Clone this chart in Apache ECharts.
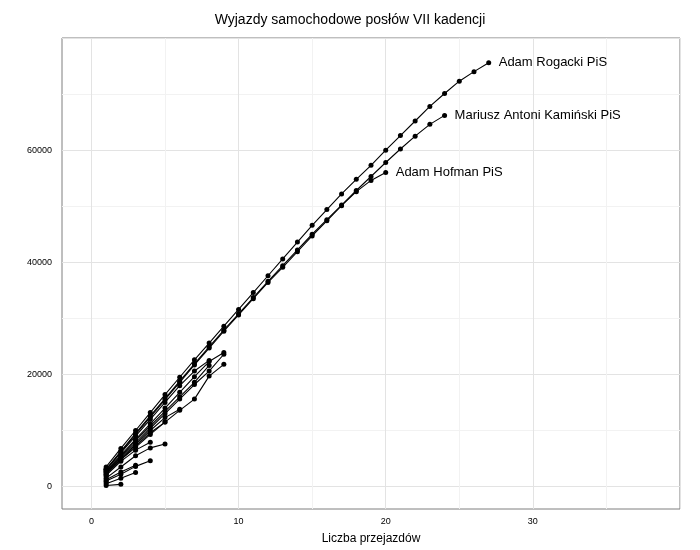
<!DOCTYPE html>
<html><head><meta charset="utf-8">
<script src="https://cdn.jsdelivr.net/npm/echarts@6/dist/echarts.min.js"></script>
<style>html,body{margin:0;background:#fff}#c{width:700px;height:550px}</style>
</head><body><div id="c"></div>
<script>
const rogacki = [3.5,6.8,10.0,13.2,16.4,19.5,22.6,25.6,28.6,31.6,34.6,37.6,40.6,43.6,46.6,49.4,52.2,54.8,57.3,60.0,62.6,65.2,67.8,70.1,72.3,74.0,75.6];
const kaminski = [3.1,6.3,9.5,12.6,15.7,18.8,21.9,24.9,27.9,30.8,33.7,36.6,39.4,42.2,45.0,47.6,50.2,52.8,55.3,57.8,60.2,62.5,64.6,66.2];
const hofman = [3.0,6.2,9.3,12.4,15.5,18.6,21.7,24.7,27.7,30.6,33.5,36.4,39.1,41.9,44.7,47.4,50.1,52.6,54.6,56.0];
const others = [
  [2.8,5.6,8.4,11.2,14.0,16.8,19.6,22.3,23.9],
  [2.6,5.2,7.8,10.4,13.0,15.6,18.2,20.6,23.6],
  [2.2,4.8,7.0,9.3,11.5,13.6,15.6,19.7,21.8],
  [3.0,6.0,9.0,12.0,15.0,18.0,20.6,22.5],
  [2.7,5.4,8.2,10.8,13.4,16.0,18.6,21.6],
  [2.5,5.0,7.5,10.0,12.3,13.8],
  [2.3,4.8,7.2,9.6,11.5],
  [1.5,3.5,5.5,6.9,7.6],
  [2.0,4.5,6.5,7.9],
  [1.0,2.2,3.6,4.6],
  [1.2,2.6,3.8],
  [0.5,1.5,2.5],
  [0.2,0.4],
  [1.8],[0.8],[3.2]
];
const named = [["Adam Rogacki PiS", rogacki],["Mariusz Antoni Kamiński PiS", kaminski],["Adam Hofman PiS", hofman]];
const mk = (vals) => vals.map((v,i)=>[i+1, v*1000]);
const base = {type:'line', symbol:'circle', symbolSize:5, color:'#000', lineStyle:{width:1.1,color:'#000'}, itemStyle:{color:'#000'}, animation:false, z:3};
const series = named.map(([n,v])=>Object.assign({}, base, {name:n, data:mk(v),
  endLabel:{show:true, formatter:n, color:'#000', fontSize:13, distance:10, fontFamily:'Liberation Sans'}}));
others.forEach((v,k)=>series.push(Object.assign({}, base, {name:'o'+k, data:mk(v)})));
const T='rgba(0,0,0,0)', MJ='#e3e3e3', MN='#f2f2f2';
const gridColors=[T,T,MJ,T,T,T,T,MN,T,T];
echarts.init(document.getElementById('c')).setOption({
  animation:false,
  textStyle:{fontFamily:'Liberation Sans'},
  title:{text:'Wyjazdy samochodowe posłów VII kadencji', left:'center', top:8, textStyle:{fontSize:14, fontWeight:'normal', color:'#000'}},
  grid:{left:62, right:20, top:38, bottom:40, show:true, borderColor:'#7f7f7f', borderWidth:1},
  xAxis:{type:'value', min:-2, max:40, interval:1, name:'Liczba przejazdów', nameLocation:'middle', nameGap:24, nameTextStyle:{fontSize:12,color:'#000'},
    axisLine:{show:false}, axisTick:{show:false},
    axisLabel:{fontSize:9, color:'#000', margin:8, formatter:v=> (Math.round(v)%10===0 && v>=0 && v<=30) ? String(Math.round(v)) : ''},
    splitLine:{show:true, lineStyle:{color:gridColors}}},
  yAxis:{type:'value', min:-4000, max:80000, interval:2000,
    axisLine:{show:false}, axisTick:{show:false},
    axisLabel:{fontSize:9, color:'#000', margin:10, formatter:v=> (Math.round(v)%20000===0 && v>=0 && v<=60000) ? String(Math.round(v)) : ''},
    splitLine:{show:true, lineStyle:{color:gridColors}}},
  series
});
</script></body></html>
